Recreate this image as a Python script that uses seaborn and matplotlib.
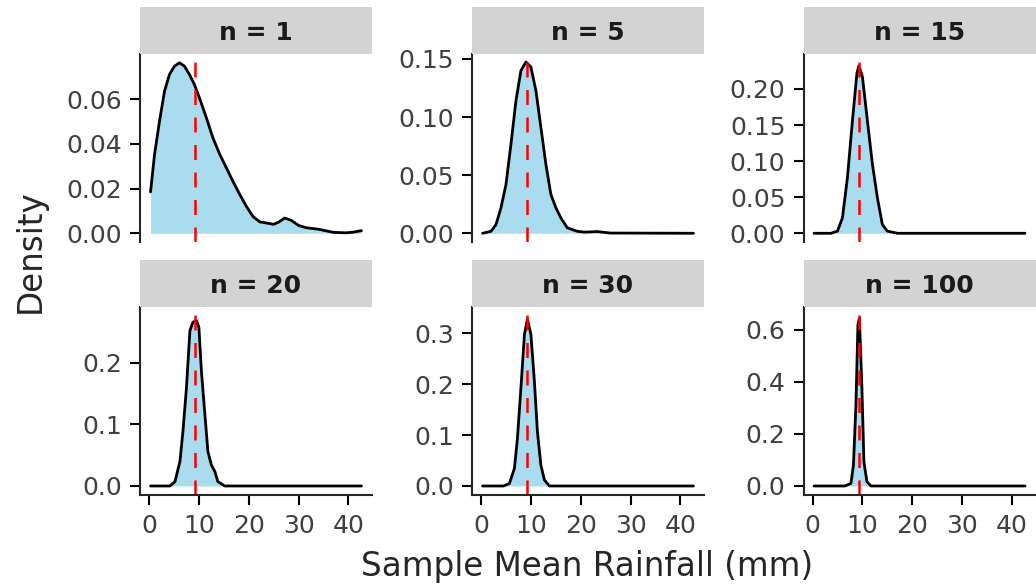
import matplotlib
matplotlib.use("Agg")
import matplotlib.pyplot as plt
import pandas as pd
import seaborn as sns

# facet labels and the population mean (red dashed line)
panel_labels = ["n = 1", "n = 5", "n = 15", "n = 20", "n = 30", "n = 100"]
true_mean = 9.3

# density curves: x = sample mean rainfall (mm), d = density
x_n1 = [0.3, 1.1, 2.1, 3.1, 4.1, 5.1, 6.1, 7.1, 8.1, 9.1, 10.1, 11.5, 12.8, 14.2,
        15.5, 16.8, 18.2, 19.5, 20.8, 22.2, 23.8, 25.0, 26.0, 27.2, 28.5, 30.0,
        31.5, 34.0, 37.0, 39.5, 41.0, 42.6]
d_n1 = [0.0185, 0.0352, 0.0501, 0.0635, 0.0710, 0.0747, 0.0762, 0.0747, 0.0710,
        0.0665, 0.0606, 0.0516, 0.0427, 0.0352, 0.0293, 0.0233, 0.0173, 0.0121,
        0.0076, 0.0051, 0.0045, 0.0040, 0.0050, 0.0068, 0.0058, 0.0035, 0.0025,
        0.0018, 0.0004, 0.0002, 0.0005, 0.0012]

x_n5 = [0.3, 2.0, 3.0, 4.0, 5.0, 6.0, 7.0, 8.0, 9.0, 10.0, 11.0, 12.0, 13.0, 14.0,
        15.0, 16.0, 17.3, 19.3, 20.7, 22.0, 23.3, 25.9, 42.6]
d_n5 = [0.0, 0.0017, 0.0075, 0.022, 0.042, 0.0767, 0.114, 0.140, 0.1474, 0.1431,
        0.1228, 0.0912, 0.0594, 0.0335, 0.022, 0.0133, 0.0047, 0.0017, 0.001,
        0.0012, 0.0015, 0.0002, 0.0]

x_n15 = [0.3, 3.7, 5.0, 6.0, 7.0, 8.0, 8.9, 9.3, 10.0, 11.0, 12.0, 13.0, 14.0,
         15.0, 17.0, 42.6]
d_n15 = [0.0, 0.0, 0.003, 0.0215, 0.0774, 0.156, 0.222, 0.232, 0.217, 0.156,
         0.096, 0.0494, 0.0121, 0.003, 0.0, 0.0]

x_n20 = [0.3, 4.2, 5.2, 6.2, 6.8, 7.5, 8.2, 8.8, 9.5, 10.0, 10.5, 11.2, 11.8,
         12.5, 13.2, 13.8, 15.2, 42.6]
d_n20 = [0.0, 0.0, 0.007, 0.040, 0.0886, 0.159, 0.2517, 0.2654, 0.268, 0.257,
         0.186, 0.116, 0.056, 0.034, 0.0233, 0.007, 0.0, 0.0]

x_n30 = [0.3, 4.5, 5.7, 6.7, 7.3, 8.0, 8.7, 9.3, 10.0, 10.7, 11.3, 12.0, 12.7,
         13.7, 42.6]
d_n30 = [0.0, 0.0, 0.005, 0.035, 0.094, 0.193, 0.298, 0.328, 0.298, 0.206, 0.107,
         0.041, 0.012, 0.0, 0.0]

x_n100 = [0.3, 6.5, 7.7, 8.2, 8.7, 9.1, 9.4, 9.9, 10.3, 10.9, 11.7, 42.6]
d_n100 = [0.0, 0.0, 0.01, 0.08, 0.31, 0.619, 0.645, 0.376, 0.093, 0.017, 0.0, 0.0]

# y axis tops and ticks per facet (free y scales)
y_top = [0.080, 0.154, 0.248, 0.290, 0.352, 0.687]
y_ticks = [[0, 0.02, 0.04, 0.06], [0, 0.05, 0.10, 0.15],
           [0, 0.05, 0.10, 0.15, 0.20], [0, 0.1, 0.2],
           [0, 0.1, 0.2, 0.3], [0, 0.2, 0.4, 0.6]]
y_fmt = ["{:.2f}", "{:.2f}", "{:.2f}", "{:.1f}", "{:.1f}", "{:.1f}"]
x_ticks = [0, 10, 20, 30, 40]

curves = [(x_n1, d_n1), (x_n5, d_n5), (x_n15, d_n15),
          (x_n20, d_n20), (x_n30, d_n30), (x_n100, d_n100)]

sns.set_style("ticks")
plt.rcParams["font.family"] = ["DejaVu Sans"]

W, H = 1036, 585
fig = plt.figure(figsize=(W / 100, H / 100), dpi=100)

col_left = [140, 472, 803.5]
row_top = [54.3, 307]
panel_w, panel_h, strip_h = 232, 187.5, 47


def frac(left, top, w, h):
    return [left / W, 1 - (top + h) / H, w / W, h / H]


x_all = [v for xs, _ in curves for v in xs]
x_rng = max(x_all) - min(x_all)
x_lim = (min(x_all) - 0.05 * x_rng, max(x_all) + 0.05 * x_rng)

for i, (xs, ds) in enumerate(curves):
    r, c = divmod(i, 3)
    ax = fig.add_axes(frac(col_left[c], row_top[r], panel_w, panel_h))
    df = pd.DataFrame({"x": xs, "density": ds})

    ax.fill_between(df["x"], df["density"], color="skyblue", alpha=0.7, linewidth=0)
    sns.lineplot(data=df, x="x", y="density", ax=ax, color="black", linewidth=2.0)
    ax.axvline(true_mean, color="red", linewidth=1.8, linestyle=(0, (6, 5)))

    ax.set_xlim(x_lim)
    ax.set_ylim(-y_top[i] / 21, y_top[i])
    ax.set_yticks(y_ticks[i])
    ax.set_yticklabels([y_fmt[i].format(t) for t in y_ticks[i]])
    ax.set_xlabel("")
    ax.set_ylabel("")

    for s in ["top", "right"]:
        ax.spines[s].set_visible(False)
    ax.spines["left"].set_linewidth(1.5)
    ax.spines["bottom"].set_linewidth(1.5)
    ax.tick_params(axis="y", length=7, width=1.5, pad=6, labelsize=18,
                   labelcolor="#404040", color="black")
    if r == 0:
        ax.spines["bottom"].set_visible(False)
        ax.set_xticks([])
    else:
        ax.set_xticks(x_ticks)
        ax.set_xticklabels([str(t) for t in x_ticks])
        ax.tick_params(axis="x", length=7, width=1.5, pad=7, labelsize=18,
                       labelcolor="#404040", color="black")

    # facet strip
    sax = fig.add_axes(frac(col_left[c], row_top[r] - strip_h, panel_w, strip_h))
    sax.set_facecolor("#D3D3D3")
    sax.set_xticks([])
    sax.set_yticks([])
    for s in sax.spines.values():
        s.set_visible(False)
    sax.text(0.5, 0.45, panel_labels[i], ha="center", va="center",
             fontsize=18, fontweight="bold", color="#1A1A1A",
             transform=sax.transAxes)

fig.text(30 / W, 1 - 251 / H, "Density", rotation=90, ha="center", va="center",
         fontsize=23.5)
fig.text(587.5 / W, 1 - 576 / H, "Sample Mean Rainfall (mm)", ha="center",
         va="baseline", fontsize=23.5)

fig.savefig("out.png", dpi=100, facecolor="white")
